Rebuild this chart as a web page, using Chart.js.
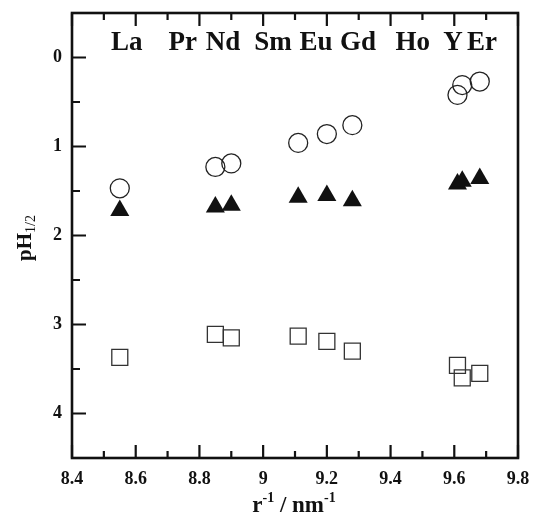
<!DOCTYPE html>
<html>
<head>
<meta charset="utf-8">
<script src="https://cdn.jsdelivr.net/npm/chart.js@4.4.0/dist/chart.umd.min.js"></script>
<style>
  html, body { margin: 0; padding: 0; background: #fff; }
</style>
</head>
<body>
<canvas id="chart" width="533" height="515"></canvas>
<script>
// reciprocal ionic radius, one per element
var rInv = [8.55, 8.85, 8.90, 9.11, 9.20, 9.28, 9.61, 9.625, 9.68];
var pHCircle   = [1.47, 1.23, 1.19, 0.96, 0.86, 0.76, 0.42, 0.31, 0.27];
var pHTriangle = [1.72, 1.68, 1.66, 1.57, 1.55, 1.61, 1.42, 1.39, 1.36];
var pHSquare   = [3.37, 3.11, 3.15, 3.13, 3.19, 3.30, 3.46, 3.60, 3.55];

var xTicks = [8.4, 8.6, 8.8, 9.0, 9.2, 9.4, 9.6, 9.8];
var xMinor = [8.5, 8.7, 8.9, 9.1, 9.3, 9.5, 9.7];
var yTicks = [0, 1, 2, 3, 4];
var yMinor = [0.5, 1.5, 2.5, 3.5];

// element names across the top and where they sit on the x axis
var elementNames = ['La', 'Pr', 'Nd', 'Sm', 'Eu', 'Gd', 'Ho', 'Y', 'Er'];
var elementX = [8.572, 8.748, 8.874, 9.031, 9.166, 9.298, 9.47, 9.596, 9.687];
var elementLevel = -0.08;

var SERIF = "'Liberation Serif', 'Times New Roman', serif";

function points(ys) {
    return rInv.map(function (x, i) { return {x: x, y: ys[i]}; });
}

// draws text with super/subscript pieces, centred on x
function drawRich(ctx, parts, x, y) {
    var total = 0;
    parts.forEach(function (p) {
        ctx.font = (p.weight || 'bold') + ' ' + p.size + 'px ' + SERIF;
        p.w = ctx.measureText(p.t).width;
        total += p.w;
    });
    var cx = x - total / 2;
    parts.forEach(function (p) {
        ctx.font = (p.weight || 'bold') + ' ' + p.size + 'px ' + SERIF;
        ctx.fillText(p.t, cx, y + (p.dy || 0));
        cx += p.w;
    });
}

var framePlugin = {
    id: 'frame',
    afterDraw: function (chart) {
        var ctx = chart.ctx, a = chart.chartArea;
        var xs = chart.scales.x, ys = chart.scales.y;
        ctx.save();
        ctx.strokeStyle = '#111';
        ctx.lineWidth = 2.6;
        ctx.strokeRect(a.left, a.top, a.right - a.left, a.bottom - a.top);

        // inward tick marks on bottom, top and left
        ctx.lineWidth = 2.2;
        ctx.beginPath();
        function xt(v, len) {
            var px = xs.getPixelForValue(v);
            ctx.moveTo(px, a.bottom); ctx.lineTo(px, a.bottom - len);
            ctx.moveTo(px, a.top); ctx.lineTo(px, a.top + len);
        }
        function yt(v, len) {
            var py = ys.getPixelForValue(v);
            ctx.moveTo(a.left, py); ctx.lineTo(a.left + len, py);
        }
        xTicks.forEach(function (v) { xt(v, 13); });
        xMinor.forEach(function (v) { xt(v, 7); });
        yTicks.forEach(function (v) { yt(v, 14); });
        yMinor.forEach(function (v) { yt(v, 8); });
        ctx.stroke();

        // element labels
        ctx.fillStyle = '#111';
        ctx.textAlign = 'center';
        ctx.textBaseline = 'alphabetic';
        ctx.font = 'bold 27px ' + SERIF;
        elementNames.forEach(function (n, i) {
            ctx.fillText(n, xs.getPixelForValue(elementX[i]), ys.getPixelForValue(elementLevel));
        });

        // axis titles
        ctx.textAlign = 'left';
        drawRich(ctx, [
            {t: 'r', size: 23},
            {t: '-1', size: 14, dy: -10},
            {t: ' / nm', size: 23},
            {t: '-1', size: 14, dy: -10}
        ], 294, 512);

        ctx.translate(31, 238);
        ctx.rotate(-Math.PI / 2);
        drawRich(ctx, [
            {t: 'pH', size: 21},
            {t: '1/2', size: 14, dy: 4, weight: 'normal'}
        ], 0, 0);
        ctx.restore();
    }
};

var ctx = document.getElementById('chart').getContext('2d');

var myChart = new Chart(ctx, {
    type: 'scatter',
    data: {
        datasets: [{
            label: 'circle',
            data: points(pHCircle),
            pointStyle: 'circle',
            pointRadius: 9.5,
            pointBorderWidth: 1.3,
            borderColor: '#222',
            backgroundColor: 'rgba(0,0,0,0)'
        }, {
            label: 'triangle',
            data: points(pHTriangle),
            pointStyle: 'triangle',
            pointRadius: 11,
            pointBorderWidth: 0,
            borderColor: '#111',
            backgroundColor: '#111'
        }, {
            label: 'square',
            data: points(pHSquare),
            pointStyle: 'rect',
            pointRadius: 11.3,
            pointBorderWidth: 1.3,
            borderColor: '#333',
            backgroundColor: 'rgba(0,0,0,0)'
        }]
    },
    options: {
        responsive: false,
        animation: false,
        events: [],
        layout: { padding: { top: 13, right: 15, left: 0, bottom: 0 } },
        plugins: {
            legend: { display: false },
            tooltip: { enabled: false }
        },
        scales: {
            x: {
                type: 'linear',
                min: 8.4,
                max: 9.8,
                grid: { display: false, drawTicks: false },
                border: { display: false },
                afterBuildTicks: function (s) { s.ticks = xTicks.map(function (v) { return {value: v}; }); },
                afterFit: function (s) { s.height = 57; s.paddingLeft = 0; s.paddingRight = 0; },
                ticks: {
                    padding: 11,
                    maxRotation: 0,
                    color: '#111',
                    font: { family: SERIF, size: 18, weight: 'bold' },
                    callback: function (v) { return String(Number(v.toFixed(1))); }
                }
            },
            y: {
                type: 'linear',
                reverse: true,
                min: -0.5,
                max: 4.5,
                grid: { display: false, drawTicks: false },
                border: { display: false },
                afterBuildTicks: function (s) { s.ticks = yTicks.map(function (v) { return {value: v}; }); },
                afterFit: function (s) { s.width = 72; s.paddingTop = 0; s.paddingBottom = 0; },
                ticks: {
                    padding: 10,
                    color: '#111',
                    font: { family: SERIF, size: 18, weight: 'bold' }
                }
            }
        }
    },
    plugins: [framePlugin]
});
</script>
</body>
</html>
